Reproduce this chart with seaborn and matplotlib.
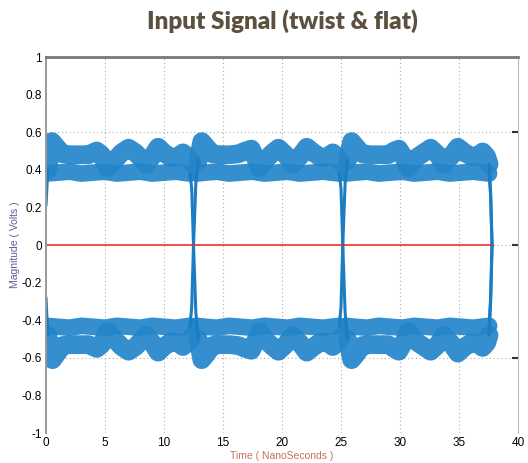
import matplotlib
matplotlib.use("Agg")
import matplotlib.pyplot as plt
import seaborn as sns
from matplotlib.ticker import FuncFormatter

# ---------------- data ----------------
title_text = "Input Signal (twist & flat)"
x_label = "Time ( NanoSeconds )"
y_label = "Magnitude ( Volts )"
x_ticks = [0, 5, 10, 15, 20, 25, 30, 35, 40]
y_ticks = [-1, -0.8, -0.6, -0.4, -0.2, 0, 0.2, 0.4, 0.6, 0.8, 1]
grid_y = [-0.6, 0, 0.6]

# upper "bump" band (three bit periods)
ub1_t = [0.15, 0.5, 0.9, 1.4, 2.0, 2.8, 3.6, 4.3, 4.7, 5.2, 5.8, 6.4, 7.0, 7.6, 8.2, 8.5, 9.0, 9.5, 10.0, 10.6, 11.2, 11.6, 12.0, 12.35]
ub1_v = [0.40, 0.55, 0.52, 0.485, 0.48, 0.48, 0.48, 0.50, 0.48, 0.41, 0.45, 0.49, 0.515, 0.49, 0.45, 0.43, 0.47, 0.52, 0.49, 0.465, 0.47, 0.49, 0.47, 0.44]
ub2_t = [12.9, 13.2, 13.6, 14.1, 14.8, 15.6, 16.3, 16.9, 17.4, 17.7, 18.1, 18.7, 19.2, 19.7, 20.3, 20.9, 21.5, 22.1, 22.7, 23.3, 23.9, 24.3, 24.7, 25.0]
ub2_v = [0.45, 0.55, 0.52, 0.485, 0.48, 0.48, 0.485, 0.50, 0.51, 0.47, 0.41, 0.46, 0.49, 0.515, 0.48, 0.43, 0.47, 0.52, 0.49, 0.465, 0.47, 0.49, 0.47, 0.44]
ub3_t = [25.55, 25.9, 26.3, 26.8, 27.5, 28.3, 29.0, 29.5, 29.9, 30.3, 30.7, 31.3, 32.0, 32.6, 33.2, 33.7, 34.3, 34.9, 35.5, 36.1, 36.6, 37.0, 37.35, 37.55]
ub3_v = [0.45, 0.55, 0.52, 0.485, 0.48, 0.48, 0.48, 0.50, 0.51, 0.47, 0.41, 0.46, 0.49, 0.515, 0.48, 0.43, 0.47, 0.52, 0.49, 0.47, 0.475, 0.495, 0.47, 0.43]

# lower "bump" band
lb1_t = [0.15, 0.55, 0.9, 1.4, 2.0, 2.8, 3.6, 4.3, 4.7, 5.2, 5.8, 6.4, 7.0, 7.6, 8.2, 8.5, 9.0, 9.5, 10.0, 10.6, 11.2, 11.6, 12.0, 12.35]
lb1_v = [-0.48, -0.61, -0.58, -0.535, -0.53, -0.53, -0.53, -0.55, -0.53, -0.46, -0.50, -0.54, -0.565, -0.54, -0.50, -0.48, -0.52, -0.57, -0.54, -0.515, -0.52, -0.54, -0.52, -0.49]
lb2_t = [12.9, 13.2, 13.6, 14.1, 14.8, 15.6, 16.3, 16.9, 17.4, 17.7, 18.1, 18.7, 19.2, 19.7, 20.3, 20.9, 21.5, 22.1, 22.7, 23.3, 23.9, 24.3, 24.7, 25.0]
lb2_v = [-0.50, -0.61, -0.58, -0.535, -0.53, -0.53, -0.535, -0.55, -0.56, -0.52, -0.46, -0.51, -0.54, -0.565, -0.53, -0.48, -0.52, -0.57, -0.54, -0.515, -0.52, -0.54, -0.52, -0.49]
lb3_t = [25.55, 25.9, 26.3, 26.8, 27.5, 28.3, 29.0, 29.5, 29.9, 30.3, 30.7, 31.3, 32.0, 32.6, 33.2, 33.7, 34.3, 34.9, 35.5, 36.1, 36.6, 37.0, 37.35, 37.55]
lb3_v = [-0.50, -0.61, -0.58, -0.535, -0.53, -0.53, -0.53, -0.55, -0.565, -0.52, -0.46, -0.51, -0.54, -0.565, -0.53, -0.48, -0.52, -0.575, -0.54, -0.52, -0.525, -0.545, -0.52, -0.48]

# flat bands
uf_t = [0.0, 1.0, 2.0, 3.0, 4.0, 5.0, 6.0, 7.0, 8.0, 9.0, 10.0, 11.0, 12.2]
uf1_v = [0.38, 0.385, 0.39, 0.38, 0.385, 0.39, 0.38, 0.385, 0.39, 0.38, 0.385, 0.39, 0.38]
uf2_t = [12.75, 13.5, 14.5, 15.5, 16.5, 17.5, 18.5, 19.5, 20.5, 21.5, 22.5, 23.5, 24.85]
uf2_v = [0.38, 0.385, 0.39, 0.38, 0.385, 0.39, 0.38, 0.385, 0.39, 0.38, 0.385, 0.39, 0.38]
uf3_t = [25.4, 26.2, 27.2, 28.2, 29.2, 30.2, 31.2, 32.2, 33.2, 34.2, 35.2, 36.2, 37.55]
uf3_v = [0.38, 0.385, 0.39, 0.38, 0.385, 0.39, 0.38, 0.385, 0.39, 0.38, 0.385, 0.39, 0.38]
lf1_v = [-0.43, -0.435, -0.44, -0.43, -0.435, -0.44, -0.43, -0.435, -0.44, -0.43, -0.435, -0.44, -0.43]
lf2_v = [-0.43, -0.435, -0.44, -0.43, -0.435, -0.44, -0.43, -0.435, -0.44, -0.43, -0.435, -0.44, -0.43]
lf3_v = [-0.43, -0.435, -0.44, -0.43, -0.435, -0.44, -0.43, -0.435, -0.44, -0.43, -0.435, -0.44, -0.43]

# thin edges (start, transitions, end)
start_up_t = [0.0, 0.15]
start_up_v = [0.21, 0.40]
start_dn_t = [0.0, 0.15]
start_dn_v = [-0.28, -0.48]
fall1_t = [12.2, 12.35, 12.5, 12.7, 12.9]
fall1_v = [0.38, 0.30, 0.0, -0.36, -0.50]
rise1_t = [12.2, 12.35, 12.5, 12.7, 12.9]
rise1_v = [-0.43, -0.33, 0.0, 0.33, 0.45]
fall2_t = [24.85, 25.0, 25.15, 25.35, 25.55]
fall2_v = [0.38, 0.30, 0.0, -0.36, -0.50]
rise2_t = [24.85, 25.0, 25.15, 25.35, 25.55]
rise2_v = [-0.43, -0.33, 0.0, 0.33, 0.45]
end_ub_t = [37.55, 37.68, 37.8]
end_ub_v = [0.43, 0.28, 0.0]
end_uf_t = [37.55, 37.68, 37.8]
end_uf_v = [0.38, 0.26, 0.0]
end_lb_t = [37.55, 37.68, 37.8]
end_lb_v = [-0.48, -0.30, 0.0]
end_lf_t = [37.55, 37.68, 37.8]
end_lf_v = [-0.43, -0.28, 0.0]

zero_t = [0.0, 37.8]
zero_v = [0.0, 0.0]

# ---------------- styling ----------------
sns.set_style("white")
plt.rcParams['font.family'] = ['Liberation Sans', 'DejaVu Sans']

BLUE = "#2485c9"
BLUE_D = "#1a7cc2"

fig = plt.figure(figsize=(5.28, 4.63), dpi=100)
ax = fig.add_axes([46 / 528, 30 / 463, 472 / 528, 376 / 463])

bump_sets = [(ub1_t, ub1_v), (ub2_t, ub2_v), (ub3_t, ub3_v),
             (lb1_t, lb1_v), (lb2_t, lb2_v), (lb3_t, lb3_v)]
flat_sets = [(uf_t, uf1_v), (uf2_t, uf2_v), (uf3_t, uf3_v),
             (uf_t, lf1_v), (uf2_t, lf2_v), (uf3_t, lf3_v)]
edge_sets = [(start_up_t, start_up_v), (start_dn_t, start_dn_v),
             (fall1_t, fall1_v), (rise1_t, rise1_v),
             (fall2_t, fall2_v), (rise2_t, rise2_v),
             (end_ub_t, end_ub_v), (end_uf_t, end_uf_v),
             (end_lb_t, end_lb_v), (end_lf_t, end_lf_v)]

for t, v in flat_sets:
    sns.lineplot(x=t, y=v, ax=ax, color=BLUE, lw=12, alpha=0.92, sort=False,
                 estimator=None, solid_capstyle='round', solid_joinstyle='round')
for t, v in bump_sets:
    sns.lineplot(x=t, y=v, ax=ax, color=BLUE, lw=13.5, alpha=0.92, sort=False,
                 estimator=None, solid_capstyle='round', solid_joinstyle='round')
for t, v in edge_sets:
    sns.lineplot(x=t, y=v, ax=ax, color=BLUE_D, lw=2.2, sort=False, estimator=None,
                 solid_capstyle='round')

sns.lineplot(x=zero_t, y=zero_v, ax=ax, color="#ee2222", lw=1.1, sort=False, estimator=None)

ax.set_xlim(0, 40)
ax.set_ylim(-1, 1)
ax.set_xticks(x_ticks)
ax.set_yticks(y_ticks)
fmt = FuncFormatter(lambda v, p: f"{v:g}")
ax.xaxis.set_major_formatter(fmt)
ax.yaxis.set_major_formatter(fmt)

for xv in x_ticks[1:-1]:
    ax.axvline(xv, color="#aaaaaa", lw=0.8, ls=(0, (1, 2.5)), zorder=0)
for yv in grid_y:
    ax.axhline(yv, color="#aaaaaa", lw=0.8, ls=(0, (1, 2.5)), zorder=0)

ax.tick_params(axis='x', direction='in', length=3, color='#999999', labelsize=8.5,
               pad=3, labelcolor='black')
ax.tick_params(axis='y', length=0, labelsize=8.5, pad=3, labelcolor='black')

ax.spines['bottom'].set_visible(False)
ax.spines['top'].set_visible(True)
ax.spines['right'].set_visible(True)
ax.spines['left'].set_visible(True)
ax.spines['top'].set_color('#777777')
ax.spines['top'].set_linewidth(2)
ax.spines['left'].set_color('#999999')
ax.spines['left'].set_linewidth(1.4)
ax.spines['right'].set_color('#bbbbbb')
ax.spines['right'].set_linewidth(0.8)

sec = ax.secondary_yaxis('right')
sec.set_yticks(grid_y)
sec.set_yticklabels([])
sec.tick_params(direction='in', length=4, width=1.5, color='#333333')
sec.spines['right'].set_visible(False)

ax.set_xlabel(x_label, color="#c4735e", fontsize=7.5, labelpad=1)
ax.set_ylabel(y_label, color="#5c5c9c", fontsize=7.5)
ax.yaxis.set_label_coords(-26 / 472, 0.5)

fig.text(282 / 528, 1 - 21 / 463, title_text, ha='center', va='center',
         fontsize=17.5, fontweight='heavy', color='#5c5040',
         family=['Lato', 'DejaVu Sans'])

fig.savefig("out.png", dpi=100)
